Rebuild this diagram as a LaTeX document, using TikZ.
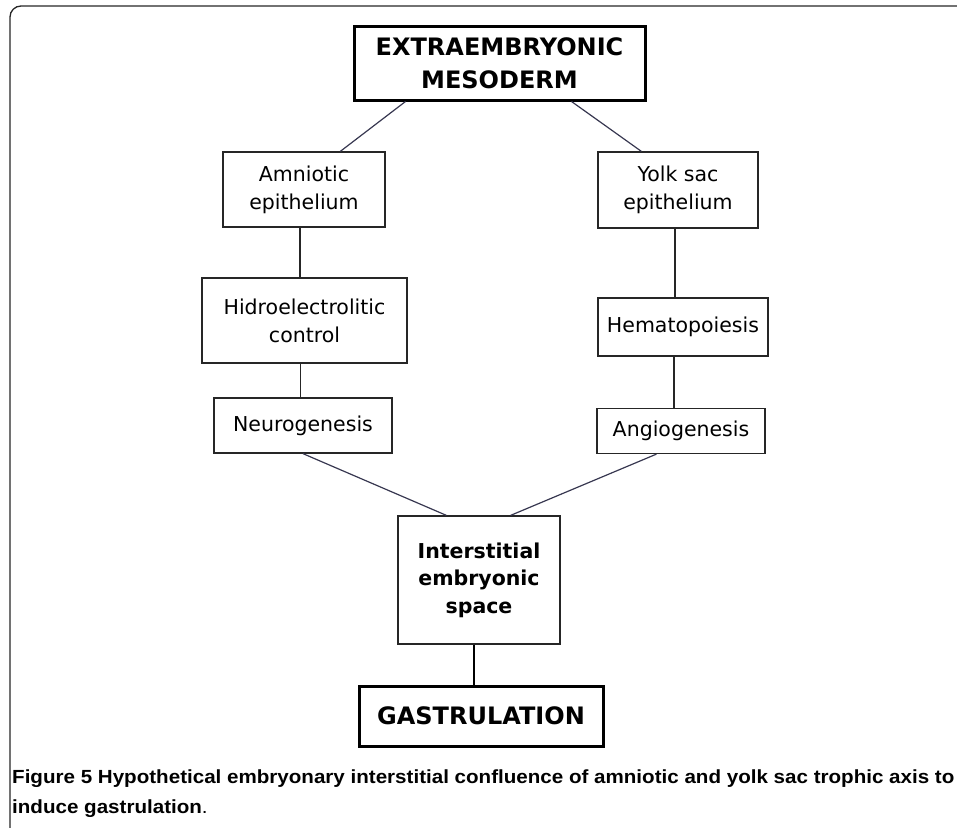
\documentclass[tikz,border=0pt]{standalone}
\usepackage{fontspec}
\usepackage{tikz}
\usetikzlibrary{calc}
\setmainfont{DejaVu Sans}
\newfontfamily\capfont{Liberation Sans}

\begin{document}
\begin{tikzpicture}[x=1pt,y=-1pt,
  box/.style={draw=black!85,line width=1.3pt,align=center,inner sep=0pt,font=\fontsize{20.5}{28}\selectfont},
  bigbox/.style={draw=black,line width=3pt,align=center,inner sep=0pt,font=\bfseries\fontsize{24}{33}\selectfont},
  link/.style={draw={rgb,255:red,55;green,55;blue,80},line width=1.2pt},
  stem/.style={draw=black!85,line width=1.4pt},
  capline/.style={anchor=west,inner sep=0pt,font=\capfont\bfseries\fontsize{19}{22}\selectfont}]
\useasboundingbox (0,0) rectangle (957,827);
\draw [black!85,line width=1.3pt,rounded corners=11pt](10,6) rectangle (990,860);
% boxes
\node [bigbox,minimum width=291,minimum height=74] (meso) at (499.5,63) {EXTRAEMBRYONIC\\MESODERM};
\node [box,minimum width=162,minimum height=75] (amn) at (304,189.5) {Amniotic\\epithelium};
\node [box,minimum width=160,minimum height=76] (yolk) at (678,190) {Yolk sac\\epithelium};
\node [box,minimum width=205,minimum height=85] (hidro) at (304.5,320.5) {Hidroelectrolitic\\control};
\node [box,minimum width=170,minimum height=58] (hemato) at (683,327) {Hematopoiesis};
\node [box,minimum width=178,minimum height=55] (neuro) at (303,425.5) {Neurogenesis};
\node [box,minimum width=168,minimum height=45] (angio) at (681,431) {Angiogenesis};
\node [box,minimum width=162,minimum height=128,font=\bfseries\fontsize{20.5}{27.5}\selectfont] (inter) at (479,580) {Interstitial\\embryonic\\space};
\node [bigbox,minimum width=244,minimum height=60] (gast) at (481,716) {GASTRULATION};
% connectors
\draw [link] ([xshift=53]meso.south west) -- ([xshift=118]amn.north west);
\draw [link] ([xshift=-75]meso.south east) -- ([xshift=44]yolk.north west);
\draw [stem] ([xshift=-4]amn.south) -- ([xshift=-4]amn.south |- hidro.north);
\draw [stem] ([xshift=-4]hidro.south) -- ([xshift=-4]hidro.south |- neuro.north);
\draw [stem] ([xshift=-3]yolk.south) -- ([xshift=-3]yolk.south |- hemato.north);
\draw [stem] ([xshift=-9]hemato.south) -- ([xshift=-9]hemato.south |- angio.north);
\draw [link] (neuro.south) -- ([xshift=49]inter.north west);
\draw [link] ([xshift=60]angio.south west) -- ([xshift=-50]inter.north east);
\draw [black,line width=2.2pt] ([xshift=-5]inter.south) -- ([xshift=-5]inter.south |- gast.north);
% caption
\node [capline] (cap1) at (12,779) {\scalebox{1.083}[1]{Figure 5 Hypothetical embryonary interstitial confluence of amniotic and yolk sac trophic axis to}};
\node [capline] (cap2) at (12,809) {\scalebox{1.083}[1]{induce gastrulation\mdseries.}};
\end{tikzpicture}
\end{document}
